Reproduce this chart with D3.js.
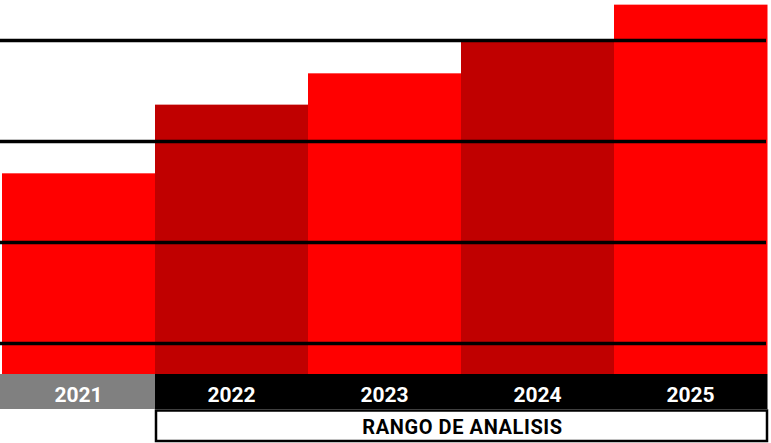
<!DOCTYPE html>
<html><head><meta charset="utf-8">
<script src="https://cdn.jsdelivr.net/npm/d3@7"></script>
<style>body{margin:0;background:#fff}svg{display:block}</style>
</head><body>
<svg id="c" width="771" height="443"></svg>
<script>
const categories = ["2021","2022","2023","2024","2025"];
const values = [2.68, 3.36, 3.67, 4.0, 4.35];
const barColors = ["#ff0000","#c00000","#ff0000","#c00000","#ff0000"];
const labelFills = ["#808080","#000000","#000000","#000000","#000000"];
const gridTicks = [1,2,3,4];
const rangeLabel = "RANGO DE ANALISIS";
const rangeCats = ["2022","2025"];

const svg = d3.select("#c");
const x = d3.scaleBand().domain(categories).range([2, 767]).padding(0);
const y = d3.scaleLinear().domain([0, 4]).range([444, 40]);
const baseY = 374;

svg.selectAll("rect.bar").data(values).join("rect")
  .attr("class","bar")
  .attr("x",(d,i)=>x(categories[i]))
  .attr("width",x.bandwidth()+0.5)
  .attr("y",d=>y(d))
  .attr("height",d=>baseY-y(d))
  .attr("fill",(d,i)=>barColors[i]);

const gridAxis = d3.axisLeft(y).tickValues(gridTicks).tickSize(-766).tickFormat("");
const g = svg.append("g").call(gridAxis);
g.select(".domain").remove();
g.selectAll(".tick line").attr("x1",0).attr("x2",766).attr("stroke","#000").attr("stroke-width",3.5);

// label band
const lab = svg.append("g");
lab.selectAll("rect").data(categories).join("rect")
  .attr("x",(d,i)=> i===0 ? 0 : x(d))
  .attr("width",(d,i)=> i===0 ? x(d)+x.bandwidth() : x.bandwidth()+0.5)
  .attr("y",baseY).attr("height",35)
  .attr("fill",(d,i)=>labelFills[i]);
lab.selectAll("text").data(categories).join("text")
  .attr("x",d=>x(d)+x.bandwidth()/2)
  .attr("y",baseY+27.5)
  .attr("text-anchor","middle")
  .attr("fill","#fff")
  .attr("font-family","Roboto, 'Liberation Sans', Arial, sans-serif")
  .attr("font-weight","bold")
  .attr("font-size",21)
  .text(d=>d);

// range box
const rx0 = x(rangeCats[0])+1, rx1 = x(rangeCats[1])+x.bandwidth();
svg.append("rect").attr("x",rx0).attr("y",410.5).attr("width",rx1-rx0).attr("height",30.5)
  .attr("fill","#fff").attr("stroke","#000").attr("stroke-width",2.5);
svg.append("text").attr("x",(rx0+rx1)/2+1).attr("y",433.5)
  .attr("text-anchor","middle")
  .attr("font-family","Roboto, 'Liberation Sans', Arial, sans-serif")
  .attr("font-weight","bold").attr("font-size",20)
  .attr("letter-spacing",0.6)
  .attr("fill","#000").text(rangeLabel);
</script>
</body></html>
